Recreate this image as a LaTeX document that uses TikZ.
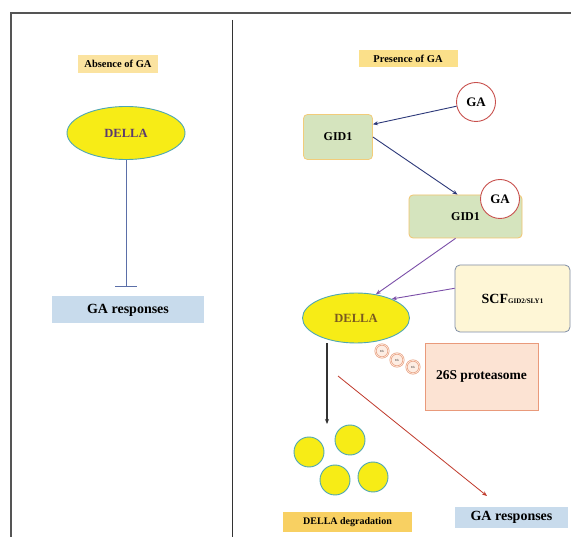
\documentclass[tikz,border=0pt]{standalone}
\usepackage{fontspec}
\setmainfont{Liberation Serif}
\usetikzlibrary{arrows.meta,shapes.geometric}
\definecolor{labfill}{HTML}{FBE3A0}
\definecolor{labfillb}{HTML}{FBE08A}
\definecolor{dellafill}{HTML}{F7EC16}
\definecolor{dellaedge}{HTML}{4EA7B3}
\definecolor{inhib}{HTML}{5B6FA8}
\definecolor{respfill}{HTML}{C8DBEC}
\definecolor{gidfill}{HTML}{D5E4BE}
\definecolor{gidedge}{HTML}{F2CC7A}
\definecolor{garing}{HTML}{C8504D}
\definecolor{navy}{HTML}{2E3A7A}
\definecolor{purp}{HTML}{7B4FA8}
\definecolor{scffill}{HTML}{FEF6D6}
\definecolor{scfedge}{HTML}{7F8DA6}
\definecolor{protfill}{HTML}{FCE3D3}
\definecolor{protedge}{HTML}{E99A7B}
\definecolor{ubfill}{HTML}{FDEDE3}
\definecolor{ubedge}{HTML}{E8A080}
\definecolor{darkline}{HTML}{333333}
\definecolor{redline}{HTML}{C0392B}
\definecolor{dellatxtL}{HTML}{5B3A6E}
\definecolor{dellatxtR}{HTML}{7A5A20}
\definecolor{degfill}{HTML}{F8D062}
\definecolor{framec}{HTML}{555555}
\begin{document}
\begin{tikzpicture}[x=1pt,y=-1pt,
  lab/.style={fill=labfill,font=\bfseries\fontsize{10.5}{11}\selectfont,inner sep=0pt,minimum width=80pt,minimum height=18pt},
  della/.style={ellipse,fill=dellafill,draw=dellaedge,line width=0.9pt,font=\bfseries\fontsize{12.5}{13}\selectfont,inner sep=0pt},
  resp/.style={fill=respfill,font=\bfseries\fontsize{14}{15}\selectfont,inner sep=0pt},
  gid/.style={rounded corners=4pt,fill=gidfill,draw=gidedge,line width=0.8pt,font=\bfseries\fontsize{12}{13}\selectfont,inner sep=0pt},
  gacirc/.style={circle,fill=white,draw=garing,line width=0.9pt,minimum size=39pt,inner sep=0pt,font=\bfseries\fontsize{13}{14}\selectfont},
  arr/.style={-{Stealth[length=5pt,width=4pt]},line width=0.9pt},
  ub/.style={circle,fill=ubfill,draw=ubedge,line width=0.7pt,double=ubfill,double distance=0.6pt,minimum size=13pt,inner sep=0pt,font=\fontsize{3}{3}\selectfont},
  degc/.style={circle,fill=dellafill,draw=dellaedge,line width=0.9pt,minimum size=30pt,inner sep=0pt}]
\useasboundingbox (0,0) rectangle (571,537);
\fill[white] (0,0) rectangle (571,537);
% frame and divider
\draw[framec,line width=1.2pt] (11,540) -- (11,13) -- (575,13);
\draw[darkline,line width=1pt] (232,20) -- (232,540);

% left panel
\node[lab] (absence) at (118,64) {Absence of GA};
\node[della,minimum width=118pt,minimum height=53pt,text=dellatxtL] (della1) at (126,133) {DELLA};
\node[resp,minimum width=152pt,minimum height=27pt] (resp1) at (128,310) {GA responses};
\coordinate (bar) at (126,286);
\draw[inhib,line width=0.9pt] (della1.south) -- (bar);
\draw[inhib,line width=0.9pt] ([xshift=-11pt]bar) -- ([xshift=11pt]bar);

% right panel
\node[lab,fill=labfillb,minimum width=99pt,minimum height=17pt] (presence) at (408,58.5) {Presence of GA};
\node[gid,minimum width=69pt,minimum height=45pt] (gid1a) at (338,137) {GID1};
\node[gacirc] (ga1) at (476,102) {GA};
\node[gid,minimum width=113pt,minimum height=43pt,draw=gidedge!90!orange] (gid1b) at (465.5,216.5) {\raisebox{-3pt}{GID1}};
\node[gacirc] (ga2) at (500,199) {GA};
\node[rounded corners=5pt,fill=scffill,draw=scfedge,line width=0.8pt,minimum width=115pt,minimum height=67pt,inner sep=0pt] (scf) at (512.5,298.5) {\bfseries\fontsize{14}{15}\selectfont SCF\fontsize{7}{8}\selectfont GID2/SLY1};
\node[della,minimum width=107pt,minimum height=50pt,text=dellatxtR] (della2) at (356,318) {DELLA};
\node[fill=protfill,draw=protedge,line width=0.9pt,minimum width=113pt,minimum height=67pt,inner sep=0pt,font=\bfseries\fontsize{13.5}{14}\selectfont] (prot) at (481.5,376.5) {26S proteasome};
\node[ub] (ub1) at (382,351) {Ub};
\node[ub] (ub2) at (397,360) {Ub};
\node[ub] (ub3) at (413,367) {Ub};

\draw[navy,arr] (ga1) -- (gid1a.20);
\draw[navy,arr] (gid1a.east) -- ([xshift=-8pt]gid1b.north);
\draw[purp,arr] ([xshift=-10pt]gid1b.south) -- (della2.50);
\draw[purp,arr] (scf.170) -- (della2.28);

% degradation
\coordinate (degtop) at (327,424);
\draw[darkline,arr,line width=1.2pt] (della2.south -| degtop) -- (degtop);
\node[degc] (d1) at (309,452) {};
\node[degc] (d2) at (350,440) {};
\node[degc] (d3) at (335,480) {};
\node[degc] (d4) at (373,477) {};
\node[fill=degfill,minimum width=129pt,minimum height=20pt,inner sep=0pt,font=\bfseries\fontsize{10}{11}\selectfont] (deg) at (347.5,522) {DELLA degradation};
\node[resp,minimum width=113pt,minimum height=21pt] (resp2) at (511.5,517.5) {GA responses};
\coordinate (rstart) at (338,376);
\coordinate (rend) at (487,496);
\draw[redline,arr,line width=0.8pt] (rstart) -- (rend);
\end{tikzpicture}
\end{document}
